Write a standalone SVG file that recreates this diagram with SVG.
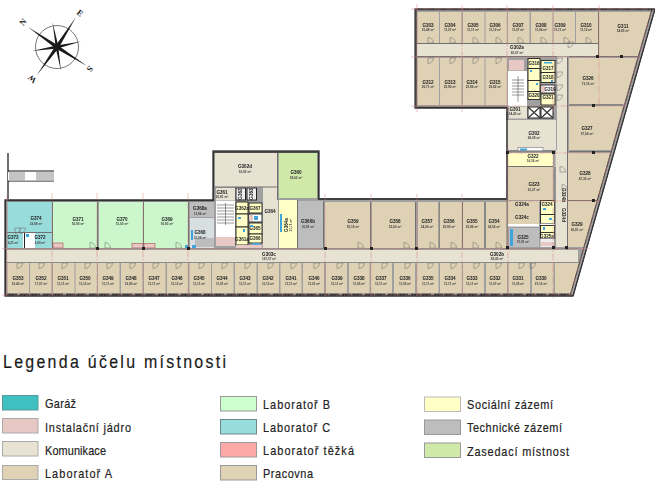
<svg xmlns="http://www.w3.org/2000/svg" width="658" height="497" viewBox="0 0 658 497">
<style>
.lab{fill:#dfd2b4}.kom{fill:#e8e2d3}.b{fill:#ccf7cc}.c{fill:#98dcdc}.soc{fill:#ffffc6}.tec{fill:#bdbdbd}.zas{fill:#cfe9a9}.pra{fill:#dfd2b4}
.n{font:bold 4.600px "Liberation Sans",Arial,sans-serif;fill:#222;text-anchor:middle}
.a{font:bold 3.100px "Liberation Sans",Arial,sans-serif;fill:#444;text-anchor:middle}
.door{fill:none;stroke:#666;stroke-width:.5}
.axis{fill:none;stroke:#d8807c;stroke-width:.55;stroke-dasharray:7 1.500 1.500 1.500;opacity:.85}
.wall{fill:none;stroke:#707070;stroke-width:1}
.thick{fill:none;stroke:#333;stroke-width:1.300}
.wc{fill:#ffffc6;stroke:#222;stroke-width:.9}
.fix{fill:#3fa4dc}
.col{fill:#222}
.sw{stroke-width:1}
.lg{font:13px "Liberation Sans",Arial,sans-serif;fill:#222;stroke:#222;stroke-width:.2}
.cmp{fill:#1a1a1a}
.cl{font:bold 8.500px "Liberation Serif",serif;fill:#222;text-anchor:middle}
</style>
<defs>
<path id="dl" class="door" d="M0 0h5.500M0 0v5.500A5.500 5.500 0 0 0 5.500 0"/>
<path id="du" class="door" d="M0 0h5.500M0 0v-5.500A5.500 5.500 0 0 1 5.500 0"/>
<filter id="soft" x="0" y="0" width="1" height="1"><feGaussianBlur stdDeviation="0.25"/></filter>
</defs>

<g id="north-arrow">
<circle cx="57" cy="47" r="21.500" fill="none" stroke="#777" stroke-width="1"/>
<polygon class="cmp" points="28,27 58.200,45.500 55.800,48.500"/>
<polygon class="cmp" points="87,66 55.800,48.500 58.200,45.500"/>
<polygon class="cmp" points="76,17 58.500,48.200 55.500,45.800"/>
<polygon class="cmp" points="37,75 55.500,45.800 58.500,48.200"/>
<polygon class="cmp" points="52.500,22 58.300,46 55.700,47"/>
<polygon class="cmp" points="81,41.500 57.500,48.500 56.500,45.500"/>
<polygon class="cmp" points="61,71 55.700,48 58.300,47"/>
<polygon class="cmp" points="32,51 56.500,45.500 57.500,48.500"/>
<text class="cl" transform="translate(23,22) rotate(-50)" y="3">N</text>
<text class="cl" transform="translate(80,13) rotate(40)" y="3">E</text>
<text class="cl" transform="translate(90,69) rotate(130)" y="3">S</text>
<text class="cl" transform="translate(32,79) rotate(-140)" y="3">W</text>
</g>

<g id="stair-outside">
<path d="M8 153V199M8 171H54M8 181H54" fill="none" stroke="#111" stroke-width="1.200"/>
<rect x="8" y="172" width="46" height="8.500" fill="#fff"/>
<path d="M10 172v8.500M12 172v8.500M14 172v8.500M16 172v8.500M18 172v8.500M20 172v8.500M22 172v8.500M24 172v8.500M37 172v8.500M39 172v8.500M41 172v8.500M43 172v8.500M45 172v8.500M47 172v8.500M49 172v8.500M51 172v8.500M53 172v8.500" stroke="#8a8a8a" stroke-width="1"/>
</g>

<g filter="url(#soft)">
<g id="building-shell">
<polygon points="415,9 655,9 573,296 5,296 5,200 213,200 213,151 319,151 319,199 507,199 507,108 415,108" fill="#a0a0a0" stroke="#444" stroke-width="1.300"/>
</g>

<g id="corridors">
<g id="G302a"><rect class="kom" x="417" y="44" width="181" height="12"/><text class="n" x="517" y="49">G302a</text><text class="a" x="517" y="53.500">60,07 m²</text></g>
<g id="G302b"><rect class="kom" x="321" y="250" width="257" height="12"/><text class="n" x="497" y="255.500">G302b</text><text class="a" x="497" y="260">82,45 m²</text></g>
<g id="G303c"><rect class="kom" x="7" y="250" width="314" height="12"/><text class="n" x="269" y="255.500">G303c</text><text class="a" x="269" y="260">167,57 m²</text></g>
<g id="G302d"><rect class="kom" x="215" y="153" width="62" height="34"/><text class="n" x="245" y="168">G302d</text><text class="a" x="245" y="172.500">52,92 m²</text></g>
<g id="G364"><rect class="kom" x="263" y="187" width="15" height="61"/><text class="n" x="270" y="212.500">G364</text></g>
<g id="G324b"><rect class="kom" x="555.500" y="150" width="11.500" height="97"/><text class="n" transform="translate(561.500,195) rotate(90)">G324b</text><text class="n" transform="translate(561.500,215) rotate(90)">G324d</text></g>
<g id="G302"><rect class="kom" x="508" y="120" width="48" height="30"/><rect class="kom" x="557" y="57" width="10" height="93"/><text class="n" x="534" y="134.500">G302</text><text class="a" x="534" y="139">68,09 m²</text></g>
</g>

<g id="rooms-top">
<g id="G303"><rect class="lab" x="417.500" y="12" width="21.500" height="31"/><text class="n" x="428" y="27">G303</text><text class="a" x="428" y="31">16,48 m²</text><use href="#du" x="428" y="43"/></g>
<g id="G304"><rect class="lab" x="440" y="12" width="21.500" height="31"/><text class="n" x="450" y="27">G304</text><text class="a" x="450" y="31">11,07 m²</text><use href="#du" x="450" y="43"/></g>
<g id="G305"><rect class="lab" x="463" y="12" width="21.500" height="31"/><text class="n" x="473" y="27">G305</text><text class="a" x="473" y="31">11,11 m²</text><use href="#du" x="473" y="43"/></g>
<g id="G306"><rect class="lab" x="485.500" y="12" width="21.500" height="31"/><text class="n" x="495" y="27">G306</text><text class="a" x="495" y="31">11,12 m²</text><use href="#du" x="496" y="43"/></g>
<g id="G307"><rect class="lab" x="508" y="12" width="21.500" height="31"/><text class="n" x="518" y="27">G307</text><text class="a" x="518" y="31">11,07 m²</text><use href="#du" x="518" y="43"/></g>
<g id="G308"><rect class="lab" x="531" y="12" width="21.500" height="31"/><text class="n" x="541" y="27">G308</text><text class="a" x="541" y="31">11,06 m²</text><use href="#du" x="541" y="43"/></g>
<g id="G309"><rect class="lab" x="553.500" y="12" width="21.500" height="31"/><text class="n" x="560" y="27">G309</text><text class="a" x="560" y="31">11,11 m²</text><use href="#du" x="564" y="43"/></g>
<g id="G310"><rect class="lab" x="576" y="12" width="22" height="31"/><text class="n" x="586" y="27">G310</text><text class="a" x="586" y="31">11,12 m²</text><use href="#du" x="586" y="43"/></g>
<g id="G311"><polygon class="lab" points="599,12 651,12 638,56 599,56"/><text class="n" x="623" y="28">G311</text><text class="a" x="623" y="32">54,85 m²</text></g>
<g id="G312"><rect class="lab" x="417.500" y="58" width="21.500" height="47"/><text class="n" x="428" y="84">G312</text><text class="a" x="428" y="88">25,71 m²</text><use href="#dl" x="428" y="58"/></g>
<g id="G313"><rect class="lab" x="440" y="58" width="21.500" height="47"/><text class="n" x="450" y="84">G313</text><text class="a" x="450" y="88">25,90 m²</text><use href="#dl" x="450" y="58"/></g>
<g id="G314"><rect class="lab" x="463" y="58" width="21.500" height="47"/><text class="n" x="472" y="84">G314</text><text class="a" x="472" y="88">25,86 m²</text><use href="#dl" x="473" y="58"/></g>
<g id="G315"><rect class="lab" x="485.500" y="58" width="21.500" height="47"/><text class="n" x="495" y="84">G315</text><text class="a" x="495" y="88">25,82 m²</text><use href="#dl" x="496" y="58"/></g>
<g id="G326"><polygon class="pra" points="569,58 637,58 624,104 569,104"/><text class="n" x="588" y="80">G326</text><text class="a" x="588" y="85">73,16 m²</text></g>
<g id="G327"><polygon class="pra" points="569,106 623,106 611,150 569,150"/><text class="n" x="587" y="130">G327</text><text class="a" x="587" y="135">57,54 m²</text></g>
<g id="G322"><rect class="soc" x="508" y="153" width="45" height="13"/><text class="n" x="533" y="158">G322</text><text class="a" x="533" y="162">16,36 m²</text></g>
<g id="G323"><rect class="pra" x="508" y="167" width="45" height="33"/><text class="n" x="534" y="186">G323</text><text class="a" x="534" y="190.500">61,27 m²</text></g>
<g id="G324a"><rect class="pra" x="508" y="201" width="31" height="11"/><text class="n" x="522" y="206">G324a</text></g>
<g id="G324c"><rect class="pra" x="508" y="212" width="31" height="12"/><text class="n" x="522" y="219">G324c</text></g>
<g id="G325"><rect class="tec" x="509" y="228" width="30" height="19"/><rect class="fix" x="510" y="229" width="3" height="17"/><text class="n" x="523" y="238.500">G325</text><text class="a" x="523" y="243">15,91 m²</text></g>
<g id="G328"><polygon class="pra" points="568,153 610,153 597,200 568,200"/><text class="n" x="585" y="175">G328</text><text class="a" x="585" y="179.500">47,36 m²</text></g>
<g id="G329"><polygon class="pra" points="568,201 597,201 584,247 568,247"/><text class="n" x="577" y="226">G329</text><text class="a" x="577" y="230.500">26,81 m²</text></g>
</g>

<g id="rooms-core-north">
<rect x="509" y="60" width="15" height="10.500" fill="#e8c8c4"/>
<rect x="508" y="71" width="19" height="35" fill="#fff"/>
<path d="M512 80h12M512 83h12M512 86h12M512 89h12M512 92h12M512 95h12M518 76v26" stroke="#555" stroke-width=".6"/>
<g id="G301"><rect class="kom" x="509" y="106.500" width="18" height="12"/><text class="n" x="515" y="110.500">G301</text><text class="a" x="515" y="115">34,45 m²</text></g>
<g id="G316"><rect class="wc" x="528" y="58.500" width="12" height="10"/><text class="n" x="534" y="65">G316</text></g>
<rect class="wc" x="528" y="68.500" width="12" height="12"/>
<rect class="wc" x="528" y="80.500" width="12" height="11"/>
<g id="G320"><rect class="wc" x="528" y="91.500" width="12" height="8"/><text class="n" x="534" y="97">G320</text></g>
<g id="G317"><rect class="wc" x="541" y="60.500" width="14" height="12"/><text class="n" x="548" y="69.500">G317</text></g>
<g id="G318"><rect class="wc" x="541" y="72.500" width="14" height="10"/><text class="n" x="548" y="78.500">G318</text></g>
<g id="G319"><rect x="541" y="85" width="14" height="8" fill="#fff" stroke="#222" stroke-width=".9"/><rect x="541" y="86" width="4" height="6" fill="#e8c8c4"/><text class="n" x="550" y="90.500">G319</text></g>
<g id="G321"><rect class="wc" x="541" y="94" width="14" height="11"/><text class="n" x="548" y="99">G321</text></g>
<rect class="fix" x="530" y="70" width="2" height="2"/><rect class="fix" x="536" y="83" width="2" height="2"/><rect class="fix" x="544" y="62" width="8" height="1.500"/><rect class="fix" x="551" y="80" width="2" height="2"/>
<rect x="528" y="107" width="12" height="11" fill="#fff" stroke="#222"/><path d="M528 107l12 11M540 107l-12 11" stroke="#333" stroke-width="1.200"/>
<rect x="541" y="107" width="12" height="11" fill="#fff" stroke="#222"/><path d="M541 107l12 11M553 107l-12 11" stroke="#333" stroke-width="1.200"/>
<rect x="518" y="147.500" width="25" height="4" fill="#fff" stroke="#888" stroke-width=".7"/><rect class="fix" x="520" y="148.500" width="7" height="2"/>
</g>

<g id="rooms-wc-south">
<g id="G324"><rect class="wc" x="540.500" y="200.500" width="14" height="14"/><text class="n" x="547" y="205.500">G324</text></g>
<rect class="wc" x="540.500" y="214.500" width="14" height="9"/>
<rect x="540.500" y="223.500" width="14" height="2" fill="#fff"/>
<rect class="wc" x="540.500" y="225.500" width="14" height="10"/>
<g id="G325a"><rect class="wc" x="540.500" y="232.500" width="14" height="6"/><text class="n" x="547" y="237.500">G325a</text></g>
<rect x="540.500" y="238.500" width="14" height="8.500" fill="#eee"/>
<rect x="541" y="242" width="13" height="4" fill="#e8c8c4"/>
<rect class="fix" x="543" y="208" width="3" height="2"/><rect class="fix" x="549" y="218" width="3" height="2"/><rect class="fix" x="543" y="227" width="2" height="3"/>
<rect x="508" y="224" width="31" height="2.500" fill="#fff"/>
</g>

<g id="rooms-middle">
<g id="G360"><rect class="zas" x="279" y="153" width="38" height="45"/><text class="n" x="296" y="174">G360</text><text class="a" x="296" y="178.500">39,62 m²</text></g>
<g id="G364a"><rect class="soc" x="279" y="200" width="18" height="48"/><rect class="fix" x="280" y="214" width="2" height="18"/><text class="n" transform="translate(288,225) rotate(-90)">G364a</text><text class="a" transform="translate(292,225) rotate(-90)">27,71 m²</text></g>
<g id="G360b"><rect class="tec" x="298" y="201" width="25" height="47"/><text class="n" x="308" y="223">G360b</text><text class="a" x="308" y="227.500">30,81 m²</text></g>
<g id="G359"><rect class="lab" x="325" y="202" width="45" height="46"/><text class="n" x="353" y="223">G359</text><text class="a" x="353" y="227.500">55,18 m²</text><use href="#du" x="358" y="248"/></g>
<g id="G358"><rect class="lab" x="372" y="202" width="43.500" height="46"/><text class="n" x="395" y="223">G358</text><text class="a" x="395" y="227.500">52,60 m²</text><use href="#du" x="404" y="248"/></g>
<g id="G357"><rect class="lab" x="418" y="202" width="21" height="46"/><text class="n" x="427" y="223">G357</text><text class="a" x="427" y="227.500">24,00 m²</text><use href="#du" x="430" y="248"/></g>
<g id="G356"><rect class="lab" x="440" y="202" width="22" height="46"/><text class="n" x="449" y="223">G356</text><text class="a" x="449" y="227.500">25,90 m²</text><use href="#du" x="451" y="248"/></g>
<g id="G355"><rect class="lab" x="463" y="202" width="21" height="46"/><text class="n" x="472" y="223">G355</text><text class="a" x="472" y="227.500">25,86 m²</text><use href="#du" x="473" y="248"/></g>
<g id="G354"><rect class="lab" x="486" y="202" width="21" height="46"/><text class="n" x="494" y="223">G354</text><text class="a" x="494" y="227.500">24,56 m²</text><use href="#du" x="496" y="248"/></g>
</g>

<g id="core-middle">
<g id="G361"><rect class="kom" x="216" y="188" width="19" height="12.500"/><text class="n" x="222" y="193.500">G361</text><text class="a" x="222" y="198">20,81 m²</text></g>
<rect x="216" y="201" width="19" height="36" fill="#fff"/>
<path d="M217 205h17M217 208h17M217 211h17M217 214h17M217 217h17M217 220h17M217 223h17M225.500 203v22" stroke="#555" stroke-width=".6"/>
<rect x="216" y="237" width="19" height="9" fill="#e8c8c4"/>
<rect x="236" y="188" width="9.500" height="12" fill="#eee" stroke="#222"/><text class="n" transform="translate(242,194) rotate(-90)">G362</text>
<rect x="247" y="188" width="9.500" height="12" fill="#eee" stroke="#222"/><text class="n" transform="translate(253,194) rotate(-90)">G363</text>
<g id="G362"><rect class="wc" x="236" y="202" width="12" height="12"/><text class="n" x="242" y="210">G362a</text></g>
<g id="G367"><rect class="wc" x="249" y="203" width="13" height="10"/><text class="n" x="255" y="209.500">G367</text></g>
<rect class="wc" x="236" y="214" width="12" height="13"/>
<rect x="249" y="214" width="13" height="8" fill="#fff" stroke="#222" stroke-width=".9"/><rect x="249" y="215" width="4" height="6" fill="#e8c8c4"/><rect class="fix" x="254" y="216" width="4" height="4"/>
<g id="G365"><rect class="wc" x="249" y="223" width="13" height="11"/><text class="n" x="255" y="230">G365</text></g>
<g id="G366"><rect class="wc" x="249" y="234" width="13" height="9"/><text class="n" x="255" y="240">G366</text></g>
<g id="G361a"><rect class="wc" x="236" y="227" width="12" height="18"/><text class="n" x="242" y="241">G361a</text></g>
<rect x="236" y="245" width="26" height="3" fill="#e8c8c4"/>
<rect class="fix" x="238" y="217" width="3" height="2"/><rect class="fix" x="243" y="229" width="2" height="3"/><rect class="fix" x="250" y="225" width="3" height="2"/><rect class="fix" x="252" y="243" width="8" height="1.500"/>
</g>

<g id="rooms-west">
<g id="G374"><rect class="c" x="7.500" y="202" width="44.500" height="30"/><text class="n" x="36" y="219.500">G374</text><text class="a" x="36" y="224.500">33,68 m²</text></g>
<g id="G373"><rect class="c" x="7.500" y="233" width="15.500" height="15"/><text class="n" x="13" y="239">G373</text><text class="a" x="13" y="243.500">6,21 m²</text></g>
<rect x="23" y="233" width="12" height="15" fill="#fff"/><rect x="24" y="233" width="1" height="15" fill="#222"/><rect class="fix" x="26" y="234" width="3" height="3"/>
<g id="G372"><rect class="c" x="35" y="233" width="17" height="15"/><text class="n" x="40" y="239">G372</text><text class="a" x="40" y="243.500">6,00 m²</text></g>
<g id="G371"><rect class="b" x="53" y="202" width="44" height="46"/><rect x="53" y="243" width="10" height="5" fill="#e8c8c4" stroke="#933" stroke-width=".5"/><text class="n" x="78" y="220.500">G371</text><text class="a" x="78" y="225">50,90 m²</text></g>
<g id="G370"><rect class="b" x="99" y="202" width="44" height="46"/><text class="n" x="122" y="220.500">G370</text><text class="a" x="122" y="225">51,00 m²</text><rect x="132" y="243.500" width="11" height="4.500" fill="#e8c8c4" stroke="#933" stroke-width=".5"/></g>
<g id="G369"><rect class="b" x="144" y="202" width="44" height="46"/><text class="n" x="167" y="220.500">G369</text><text class="a" x="167" y="225">50,83 m²</text><rect x="144" y="243.500" width="11" height="4.500" fill="#e8c8c4" stroke="#933" stroke-width=".5"/></g>
<g id="G368a"><rect class="tec" x="190" y="202" width="24" height="15"/><text class="n" x="200" y="210">G368a</text><text class="a" x="200" y="215">12,94 m²</text></g>
<g id="G368"><rect x="190" y="218" width="24" height="30" fill="#d7dfe0"/><rect class="tec" x="195" y="238" width="19" height="9"/><rect class="fix" x="191" y="230" width="2" height="10"/><rect class="fix" x="185" y="245" width="4" height="4"/><rect class="fix" x="192" y="245" width="4" height="4"/><text class="n" x="200" y="234">G368</text><text class="a" x="200" y="239">31,08 m²</text></g>
</g>

<g id="rooms-bottom">
<g id="G353"><rect class="lab" x="7.500" y="263" width="21.500" height="30"/><text class="n" x="18" y="280">G353</text><text class="a" x="18" y="284.500">16,42 m²</text><use href="#dl" x="17" y="263"/></g>
<g id="G352"><rect class="lab" x="30" y="263" width="21.500" height="30"/><text class="n" x="41" y="280">G352</text><text class="a" x="41" y="284.500">17,07 m²</text><use href="#dl" x="39" y="263"/></g>
<g id="G351"><rect class="lab" x="53" y="263" width="21.500" height="30"/><text class="n" x="63" y="280">G351</text><text class="a" x="63" y="284.500">11,11 m²</text><use href="#dl" x="62" y="263"/></g>
<g id="G350"><rect class="lab" x="75.500" y="263" width="21.500" height="30"/><text class="n" x="85" y="280">G350</text><text class="a" x="85" y="284.500">11,12 m²</text><use href="#dl" x="85" y="263"/></g>
<g id="G349"><rect class="lab" x="98" y="263" width="21.500" height="30"/><text class="n" x="108" y="280">G349</text><text class="a" x="108" y="284.500">11,11 m²</text><use href="#dl" x="107" y="263"/></g>
<g id="G348"><rect class="lab" x="121" y="263" width="21.500" height="30"/><text class="n" x="131" y="280">G348</text><text class="a" x="131" y="284.500">16,90 m²</text><use href="#dl" x="130" y="263"/></g>
<g id="G347"><rect class="lab" x="144" y="263" width="21.500" height="30"/><text class="n" x="154" y="280">G347</text><text class="a" x="154" y="284.500">11,11 m²</text><use href="#dl" x="153" y="263"/></g>
<g id="G346"><rect class="lab" x="167" y="263" width="21" height="30"/><text class="n" x="177" y="280">G346</text><text class="a" x="177" y="284.500">11,12 m²</text><use href="#dl" x="176" y="263"/></g>
<g id="G345"><rect class="lab" x="189.500" y="263" width="21.500" height="30"/><text class="n" x="199" y="280">G345</text><text class="a" x="199" y="284.500">11,11 m²</text><use href="#dl" x="199" y="263"/></g>
<g id="G344"><rect class="lab" x="212" y="263" width="21.500" height="30"/><text class="n" x="222" y="280">G344</text><text class="a" x="222" y="284.500">11,01 m²</text><use href="#dl" x="222" y="263"/></g>
<g id="G343"><rect class="lab" x="235" y="263" width="21.500" height="30"/><text class="n" x="245" y="280">G343</text><text class="a" x="245" y="284.500">11,11 m²</text><use href="#dl" x="245" y="263"/></g>
<g id="G342"><rect class="lab" x="258" y="263" width="21" height="30"/><text class="n" x="268" y="280">G342</text><text class="a" x="268" y="284.500">11,12 m²</text><use href="#dl" x="268" y="263"/></g>
<g id="G341"><rect class="lab" x="280.500" y="263" width="21" height="30"/><text class="n" x="291" y="280">G341</text><text class="a" x="291" y="284.500">11,11 m²</text><use href="#dl" x="291" y="263"/></g>
<g id="G340"><rect class="lab" x="303" y="263" width="21" height="30"/><text class="n" x="314" y="280">G340</text><text class="a" x="314" y="284.500">11,01 m²</text><use href="#dl" x="314" y="263"/></g>
<g id="G339"><rect class="lab" x="326" y="263" width="21" height="30"/><text class="n" x="337" y="280">G339</text><text class="a" x="337" y="284.500">11,11 m²</text><use href="#dl" x="337" y="263"/></g>
<g id="G338"><rect class="lab" x="349" y="263" width="20.500" height="30"/><text class="n" x="359" y="280">G338</text><text class="a" x="359" y="284.500">11,05 m²</text><use href="#dl" x="359" y="263"/></g>
<g id="G337"><rect class="lab" x="371" y="263" width="21" height="30"/><text class="n" x="381" y="280">G337</text><text class="a" x="381" y="284.500">11,11 m²</text><use href="#dl" x="382" y="263"/></g>
<g id="G336"><rect class="lab" x="394" y="263" width="21" height="30"/><text class="n" x="405" y="280">G336</text><text class="a" x="405" y="284.500">11,05 m²</text><use href="#dl" x="405" y="263"/></g>
<g id="G335"><rect class="lab" x="417" y="263" width="21.500" height="30"/><text class="n" x="428" y="280">G335</text><text class="a" x="428" y="284.500">11,11 m²</text><use href="#dl" x="428" y="263"/></g>
<g id="G334"><rect class="lab" x="440" y="263" width="22" height="30"/><text class="n" x="450" y="280">G334</text><text class="a" x="450" y="284.500">11,11 m²</text><use href="#dl" x="451" y="263"/></g>
<g id="G333"><rect class="lab" x="463" y="263" width="21" height="30"/><text class="n" x="472" y="280">G333</text><text class="a" x="472" y="284.500">11,11 m²</text><use href="#dl" x="474" y="263"/></g>
<g id="G332"><rect class="lab" x="486" y="263" width="21" height="30"/><text class="n" x="495" y="280">G332</text><text class="a" x="495" y="284.500">11,07 m²</text><use href="#dl" x="496" y="263"/></g>
<g id="G331"><rect class="lab" x="508.500" y="263" width="21.500" height="30"/><text class="n" x="518" y="280">G331</text><text class="a" x="518" y="284.500">11,05 m²</text><use href="#dl" x="519" y="263"/></g>
<g id="G330"><rect class="lab" x="532" y="263" width="21.500" height="30"/><text class="n" x="541" y="280">G330</text><text class="a" x="541" y="284.500">21,16 m²</text><use href="#dl" x="530" y="263"/></g>
<polygon class="lab" points="555,263 579,263 571,293 555,293"/>
</g>

<g id="doors-extra">
<use href="#dl" x="568" y="42"/><use href="#dl" x="557" y="58"/><use href="#dl" x="557" y="72"/><use href="#dl" x="557" y="85"/>
<use href="#dl" x="557" y="95"/><use href="#du" x="560" y="172"/><use href="#du" x="562" y="190"/><use href="#dl" x="20" y="228"/><use href="#dl" x="15" y="228"/>
<use href="#du" x="90" y="248"/><use href="#du" x="105" y="248"/><use href="#du" x="176" y="248"/>
</g>

<g id="outer-walls">
<path class="thick" d="M416 9.500H654.500M573 295.500H5.500V200.500H213.500V152H318.500V199H507V108M416 9.500V107.500H507"/>
<path d="M655 9L573 296" fill="none" stroke="#333" stroke-width="1"/>
<path d="M652 9L570 296" fill="none" stroke="#333" stroke-width="1"/>
<path class="wall" d="M417 43.500H598M417 56.500H557M569 56.500H640M598.500 12V56M569 105H623M569 151.500H611M568 200.500H600M507 120V250M508 151H556M508 166.500H553M555 167V248M567.500 57V250M277.500 153V200M215 187H277M297.500 200V248M323.500 201V248M370.500 202V248M415.500 202V248M439 202V248M462.500 202V248M485 202V248M52.500 202V248M97.500 202V248M143.500 202V248M188.500 202V248M7 232.500H52"/>
<path d="M7 248.500H578M7 262.500H578" fill="none" stroke="#8a8a8a" stroke-width="1"/>
<path d="M7 294.500H572" fill="none" stroke="#333" stroke-width="1.300" stroke-dasharray="10 3 9 1"/>
</g>

<g id="axes">
<path class="axis" d="M417 4V112M462 5V112M507 5V112M553 5V112M599 5V104"/>
<path class="axis" d="M411 9H655M411 57H640M411 106H626M505 153H612M505 201H600"/>
<path class="axis" d="M508 148V298M553 150V298M462 194V298M417 194V298M371 194V298M325 194V298M52 193V298M97 193V298M143 193V298M188 193V298M7 195V298"/>
<path class="axis" d="M2 248.500H590M2 295H575"/>
<path class="axis" d="M651 12L571 293"/>
</g>

<g id="columns">
<rect class="col" x="506" y="151" width="3" height="3"/><rect class="col" x="552" y="151" width="3" height="3"/>
<rect class="col" x="506" y="246" width="3" height="3"/><rect class="col" x="552" y="246" width="3" height="3"/><rect class="col" x="565" y="246" width="3" height="3"/>
<rect class="col" x="596" y="55" width="3" height="3"/><rect class="col" x="620" y="55" width="3" height="3"/><rect class="col" x="592" y="104" width="3" height="3"/>
<rect class="col" x="592" y="151" width="3" height="3"/><rect class="col" x="592" y="199" width="3" height="3"/>
<rect class="col" x="324" y="247" width="3" height="3"/><rect class="col" x="370" y="247" width="3" height="3"/><rect class="col" x="415" y="247" width="3" height="3"/>
<rect class="col" x="96" y="247" width="3" height="3"/><rect class="col" x="142" y="247" width="3" height="3"/><rect class="col" x="187" y="247" width="3" height="3"/>
</g>
</g>

<g id="legend">
<text transform="translate(3,368) scale(.84,1)" textLength="265.500" lengthAdjust="spacing" style="font:19px 'Liberation Sans',Arial,sans-serif;fill:#1a1a1a;stroke:#1a1a1a;stroke-width:.2">Legenda účelu místnosti</text>
<g id="leg-garaz"><rect class="sw" x="2.500" y="395.500" width="35.500" height="14.500" fill="#3fc0c0" stroke="#5a9a9a"/><text class="lg" transform="translate(45,408) scale(.84,1)" textLength="36.900">Garáž</text></g>
<g id="leg-jadro"><rect class="sw" x="2.500" y="418.500" width="35.500" height="14.500" fill="#e8c8c4" stroke="#aaa"/><text class="lg" transform="translate(45,431.500) scale(.84,1)" textLength="102.400">Instalační jádro</text></g>
<g id="leg-komunikace"><rect class="sw" x="2.500" y="441.500" width="35.500" height="14.500" fill="#e8e2d3" stroke="#aaa"/><text class="lg" transform="translate(45,454.500) scale(.84,1)" textLength="72.600">Komunikace</text></g>
<g id="leg-lab-a"><rect class="sw" x="2.500" y="465.500" width="35.500" height="14" fill="#e0d2b4" stroke="#aaa"/><text class="lg" transform="translate(45,477.500) scale(.84,1)" textLength="79.800">Laboratoř A</text></g>
<g id="leg-lab-b"><rect class="sw" x="220.500" y="396.500" width="36" height="14.500" fill="#ccffcc" stroke="#999"/><text class="lg" transform="translate(263,409) scale(.84,1)" textLength="79.800">Laboratoř B</text></g>
<g id="leg-lab-c"><rect class="sw" x="220.500" y="419.500" width="36" height="14.500" fill="#98dcdc" stroke="#6a8a8a"/><text class="lg" transform="translate(263,432) scale(.84,1)" textLength="79.800">Laboratoř C</text></g>
<g id="leg-lab-t"><rect class="sw" x="220.500" y="442.500" width="36" height="14.500" fill="#ffa8a8" stroke="#999"/><text class="lg" transform="translate(263,455) scale(.84,1)" textLength="108.300">Laboratoř těžká</text></g>
<g id="leg-pracovna"><rect class="sw" x="220.500" y="465.500" width="36" height="14.500" fill="#e0d2b4" stroke="#999"/><text class="lg" transform="translate(263,478) scale(.84,1)" textLength="59.500">Pracovna</text></g>
<g id="leg-soc"><rect class="sw" x="424.500" y="397" width="36" height="14.500" fill="#ffffc6" stroke="#bbb"/><text class="lg" transform="translate(467,409) scale(.84,1)" textLength="102.400">Sociální zázemí</text></g>
<g id="leg-tec"><rect class="sw" x="424.500" y="420" width="36" height="14.500" fill="#bdbdbd" stroke="#999"/><text class="lg" transform="translate(467,432) scale(.84,1)" textLength="113.100">Technické zázemí</text></g>
<g id="leg-zas"><rect class="sw" x="424.500" y="443" width="36" height="14.500" fill="#cfe9a9" stroke="#999"/><text class="lg" transform="translate(467,456) scale(.84,1)" textLength="121.400">Zasedací místnost</text></g>
</g>
</svg>
